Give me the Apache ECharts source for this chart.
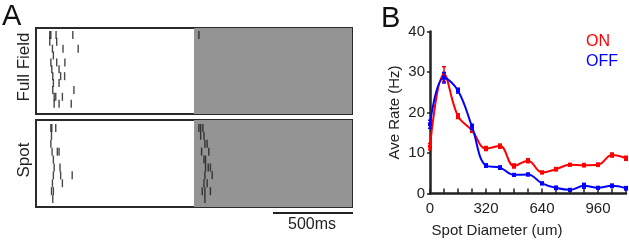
<!DOCTYPE html>
<html>
<head>
<meta charset="utf-8">
<script src="https://cdn.jsdelivr.net/npm/echarts@6/dist/echarts.min.js"></script>
<style>
  html, body { margin: 0; padding: 0; background: #fff; }
  #main { width: 629px; height: 240px; }
</style>
</head>
<body>
<div id="main"></div>
<script>
// ---- panel A: spike rasters (time ms, trial row) ----
var fullFieldSpikes = [
    [87, 1], [94, 1], [127, 1], [233, 1], [1031, 1],
    [87, 2], [131, 2],
    [104, 3], [171, 3], [267, 3],
    [110, 4],
    [94, 5], [131, 5], [183, 5],
    [100, 6], [146, 6],
    [106, 7], [156, 7], [181, 7],
    [110, 8], [146, 8],
    [106, 9], [240, 9],
    [115, 10], [125, 10], [167, 10],
    [115, 11], [146, 11], [223, 11]
];
var spotSpikes = [
    [94, 1], [100, 1], [125, 1], [1031, 1], [1042, 1], [1056, 1],
    [98, 2], [1042, 2], [1063, 2],
    [94, 3], [1069, 3], [1083, 3],
    [102, 4], [135, 4], [146, 4], [1048, 4], [1094, 4],
    [110, 5], [1063, 5], [1073, 5],
    [115, 6], [152, 6], [1073, 6], [1090, 6], [1104, 6],
    [110, 7], [156, 7], [229, 7], [1069, 7], [1115, 7],
    [104, 8], [167, 8], [1063, 8], [1083, 8],
    [98, 9], [110, 9], [1052, 9], [1069, 9], [1104, 9],
    [106, 10], [1069, 10]
];
var stimSwitch = [1000, 2000];

// ---- panel B: rate vs spot diameter ----
var diameters = [0, 80, 160, 240, 320, 400, 480, 560, 640, 720, 800, 880, 960, 1040, 1120];
var onRate  = [11.6, 29.5, 19.1, 15.6, 11.1, 11.7, 6.8, 8.1, 5.2, 6.0, 7.1, 7.0, 7.1, 9.5, 8.7];
var onErr   = [0.8, 1.8, 0.6, 0.5, 0.5, 0.5, 0.5, 0.5, 0.3, 0.4, 0.3, 0.4, 0.4, 0.5, 0.5];
var offRate = [17.1, 28.6, 25.4, 16.5, 6.9, 6.4, 4.6, 4.7, 2.5, 1.4, 0.9, 1.9, 1.4, 1.9, 1.3];
var offErr  = [1.0, 1.3, 0.6, 0.6, 0.4, 0.4, 0.3, 0.3, 0.3, 0.4, 0.3, 0.6, 0.3, 0.4, 0.4];
var xTickLabels = [0, 320, 640, 960];

var FONT = 'Liberation Sans, Arial, sans-serif';

function pairs(xs, ys) {
    return xs.map(function (x, i) { return [x, ys[i]]; });
}
function errData(xs, ys, es) {
    return xs.map(function (x, i) { return [x, ys[i] - es[i], ys[i] + es[i]]; });
}
function errorBars(color) {
    return function (params, api) {
        var lo = api.coord([api.value(0), api.value(1)]);
        var hi = api.coord([api.value(0), api.value(2)]);
        var w = 2;
        var st = { stroke: color, lineWidth: 1.5 };
        return {
            type: 'group',
            children: [
                { type: 'line', shape: { x1: lo[0], y1: lo[1], x2: hi[0], y2: hi[1] }, style: st },
                { type: 'line', shape: { x1: lo[0] - w, y1: lo[1], x2: lo[0] + w, y2: lo[1] }, style: st },
                { type: 'line', shape: { x1: hi[0] - w, y1: hi[1], x2: hi[0] + w, y2: hi[1] }, style: st }
            ]
        };
    };
}

var chart = echarts.init(document.getElementById('main'));

var rasterX = function (idx) {
    return {
        gridIndex: idx, type: 'value', min: 0, max: 2000,
        axisLine: { show: false }, axisTick: { show: false },
        axisLabel: { show: false }, splitLine: { show: false }
    };
};
var rasterY = function (idx, max) {
    return {
        gridIndex: idx, type: 'value', min: 0, max: max, inverse: true,
        axisLine: { show: false }, axisTick: { show: false },
        axisLabel: { show: false }, splitLine: { show: false }
    };
};
var rasterSeries = function (idx, data) {
    return {
        type: 'scatter', xAxisIndex: idx, yAxisIndex: idx,
        data: data, symbol: 'rect', symbolSize: [1.4, 8],
        itemStyle: { color: '#1a1a1a' }, silent: true,
        markArea: {
            silent: true,
            itemStyle: { color: '#949494' },
            data: [[{ xAxis: stimSwitch[0] }, { xAxis: stimSwitch[1] }]]
        },
        z: 3
    };
};

var option = {
    animation: false,
    textStyle: { fontFamily: FONT },
    grid: [
        { left: 36, top: 28, width: 316, height: 86, show: true, outerBoundsMode: 'none',
          backgroundColor: '#fff', borderColor: '#2a2a2a', borderWidth: 2 },
        { left: 36, top: 120, width: 316, height: 87, show: true, outerBoundsMode: 'none',
          backgroundColor: '#fff', borderColor: '#2a2a2a', borderWidth: 2 },
        { left: 430, top: 31.5, right: 3, bottom: 46.5, outerBoundsMode: 'none' }
    ],
    xAxis: [
        rasterX(0),
        rasterX(1),
        {
            gridIndex: 2, type: 'value', min: 0, max: 1120, interval: 80,
            name: 'Spot Diameter (um)', nameLocation: 'middle', nameGap: 30,
            nameTextStyle: { fontSize: 15, color: '#222', fontFamily: FONT, padding: [0, 62, 0, 0] },
            axisLine: { lineStyle: { color: '#222', width: 2.5 } },
            axisTick: { inside: true, length: 5, lineStyle: { color: '#222', width: 1.5 } },
            axisLabel: {
                fontSize: 15, color: '#222', margin: 8, fontFamily: FONT,
                formatter: function (v) { return xTickLabels.indexOf(v) >= 0 ? String(v) : ''; }
            },
            splitLine: { show: false }
        }
    ],
    yAxis: [
        rasterY(0, 12.5),
        rasterY(1, 11),
        {
            gridIndex: 2, type: 'value', min: 0, max: 40, interval: 10,
            name: 'Ave Rate (Hz)', nameLocation: 'middle', nameGap: 28, nameRotate: 90,
            nameTextStyle: { fontSize: 15, color: '#222', fontFamily: FONT },
            axisLine: { show: true, lineStyle: { color: '#222', width: 2.5 } },
            axisTick: { show: true, length: 3, lineStyle: { color: '#222', width: 1.5 } },
            axisLabel: { fontSize: 15, color: '#222', margin: 5, fontFamily: FONT },
            splitLine: { show: false }
        }
    ],
    legend: {
        orient: 'vertical', left: 581, top: 34, itemGap: 4, padding: 0,
        icon: 'rect', itemWidth: 0, itemHeight: 0,
        textStyle: { fontSize: 16, fontFamily: FONT },
        data: [
            { name: 'ON', textStyle: { color: '#ff0000' } },
            { name: 'OFF', textStyle: { color: '#0000ff' } }
        ]
    },
    graphic: [
        { type: 'text', left: 2, top: 2, style: { text: 'A', font: '29px ' + FONT, fill: '#111' } },
        { type: 'text', left: 381, top: 4, style: { text: 'B', font: '29px ' + FONT, fill: '#111' } },
        { type: 'text', x: 24, y: 67, rotation: Math.PI / 2,
          style: { text: 'Full Field', font: '17px ' + FONT, fill: '#222', align: 'center', verticalAlign: 'middle' } },
        { type: 'text', x: 24, y: 160, rotation: Math.PI / 2,
          style: { text: 'Spot', font: '17px ' + FONT, fill: '#222', align: 'center', verticalAlign: 'middle' } },
        { type: 'line', shape: { x1: 273, y1: 213, x2: 353, y2: 213 },
          style: { stroke: '#222', lineWidth: 2 } },
        { type: 'text', x: 312, y: 225,
          style: { text: '500ms', font: '16px ' + FONT, fill: '#222', align: 'center', verticalAlign: 'middle' } }
    ],
    series: [
        rasterSeries(0, fullFieldSpikes),
        rasterSeries(1, spotSpikes),
        {
            name: 'ON', type: 'line', xAxisIndex: 2, yAxisIndex: 2,
            data: pairs(diameters, onRate), smooth: 0.4,
            symbol: 'rect', symbolSize: 4, showAllSymbol: true,
            lineStyle: { color: '#ff0000', width: 2 },
            itemStyle: { color: '#ff0000' }, z: 4
        },
        {
            type: 'custom', xAxisIndex: 2, yAxisIndex: 2,
            data: errData(diameters, onRate, onErr),
            renderItem: errorBars('#ff0000'), z: 4
        },
        {
            name: 'OFF', type: 'line', xAxisIndex: 2, yAxisIndex: 2,
            data: pairs(diameters, offRate), smooth: 0.4,
            symbol: 'rect', symbolSize: 4, showAllSymbol: true,
            lineStyle: { color: '#0000ff', width: 2 },
            itemStyle: { color: '#0000ff' }, z: 5
        },
        {
            type: 'custom', xAxisIndex: 2, yAxisIndex: 2,
            data: errData(diameters, offRate, offErr),
            renderItem: errorBars('#0000ff'), z: 5
        }
    ]
};

chart.setOption(option);
</script>
</body>
</html>
